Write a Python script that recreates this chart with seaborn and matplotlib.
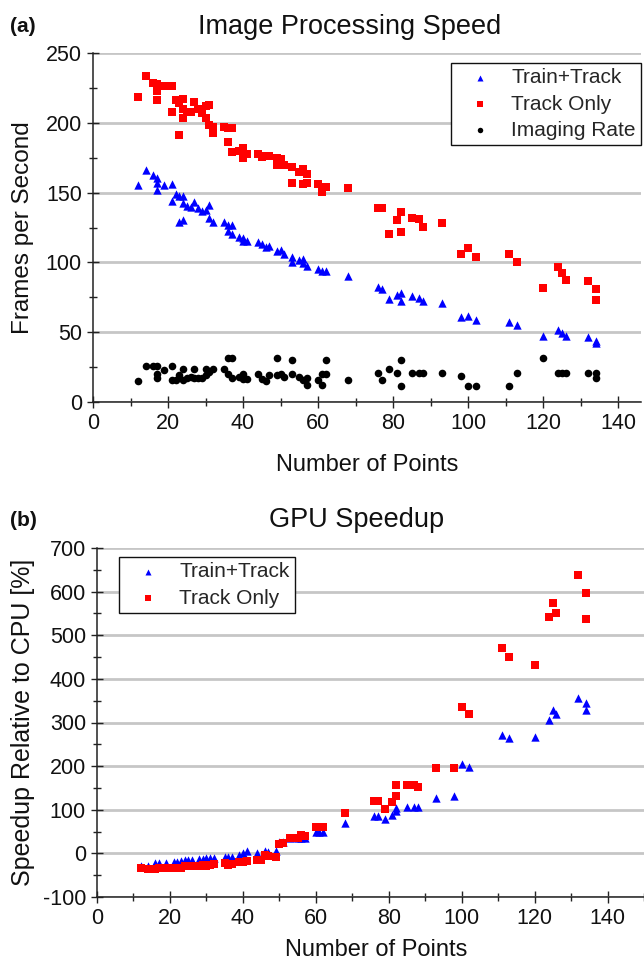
import matplotlib
matplotlib.use("Agg")
import matplotlib.pyplot as plt
import seaborn as sns
from matplotlib.ticker import MultipleLocator

# ---------------- data: panel (a) Image Processing Speed ----------------
a_tt_x = [12, 14, 16, 17, 17, 17, 19, 21, 21, 22, 23, 24, 24, 23, 24, 25, 26, 27, 28, 29,
          30, 31, 31, 32, 35, 36, 37, 36, 37, 39, 40, 40, 41, 44, 45, 46, 47, 49, 50, 51,
          53, 53, 55, 56, 56, 57, 60, 61, 62, 68, 76, 77, 79, 81, 82, 82, 85, 87, 88, 93,
          98, 100, 102, 111, 113, 120, 124, 125, 126, 132, 134, 134]
a_tt_y = [155.5, 166.2, 162.4, 160.2, 156.7, 151.7, 155.5, 155.9, 143.8, 148.8, 147.6, 147.6,
          142.9, 129.0, 130.7, 140.5, 139.8, 143.6, 139.3, 136.9, 137.6, 141.2, 132.1, 129.0,
          129.0, 126.9, 126.9, 122.6, 120.7, 117.9, 117.6, 115.0, 115.5, 114.5, 113.3, 110.7,
          111.4, 108.3, 109.0, 106.0, 103.6, 100.0, 101.4, 102.4, 99.5, 97.1, 95.5, 94.0,
          93.6, 90.0, 82.1, 81.0, 73.8, 76.9, 78.1, 72.4, 75.7, 74.5, 72.6, 71.0, 61.2, 61.9,
          59.0, 57.1, 55.2, 47.1, 51.7, 49.3, 47.6, 46.4, 44.0, 42.1]

a_to_x = [12, 14, 16, 17, 17, 17, 19, 21, 21, 22, 23, 23, 24, 24, 24, 25, 26, 27, 28, 29,
          30, 30, 31, 31, 32, 32, 35, 36, 37, 36, 37, 39, 40, 40, 41, 44, 45, 46, 47, 49,
          50, 49, 51, 53, 53, 55, 56, 57, 56, 57, 60, 61, 61, 62, 68, 76, 77, 79, 81, 82,
          82, 85, 87, 88, 93, 98, 100, 102, 111, 113, 120, 124, 125, 126, 132, 134, 134]
a_to_y = [218.3, 233.8, 228.6, 227.6, 222.6, 216.2, 226.7, 226.7, 207.9, 216.2, 191.0, 214.3,
          217.1, 210.0, 203.6, 207.6, 207.6, 215.0, 210.0, 207.1, 211.9, 203.6, 212.4, 198.1,
          197.1, 192.9, 196.9, 196.4, 196.4, 186.4, 179.3, 179.8, 182.1, 174.5, 177.4, 177.4,
          175.7, 176.2, 176.2, 174.5, 174.3, 169.8, 169.5, 168.3, 157.1, 165.0, 166.7, 163.1,
          156.4, 157.1, 156.4, 150.7, 153.3, 154.3, 153.5, 138.8, 138.8, 120.5, 130.7, 136.4,
          121.9, 131.9, 131.0, 125.7, 127.9, 106.0, 110.5, 103.6, 106.2, 100.5, 81.4, 96.9,
          92.4, 87.6, 86.9, 81.0, 73.3]

a_ir_x = [12, 14, 16, 17, 17, 17, 19, 21, 21, 22, 23, 24, 24, 25, 26, 27, 27, 28, 29, 30,
          30, 31, 32, 35, 36, 37, 36, 37, 39, 40, 40, 41, 44, 45, 46, 47, 49, 49, 50, 51,
          53, 53, 55, 56, 57, 57, 60, 61, 61, 62, 62, 68, 76, 77, 79, 81, 82, 82, 85, 87,
          88, 93, 98, 100, 102, 111, 113, 120, 124, 125, 126, 132, 134, 134]
a_ir_y = [14.8, 25.5, 25.5, 25.5, 20.2, 17.1, 23.1, 25.5, 15.5, 15.5, 19.0, 23.8, 16.0, 17.1,
          17.9, 23.8, 17.1, 17.1, 17.1, 23.8, 19.5, 21.4, 23.8, 23.8, 31.7, 31.7, 20.2, 17.1,
          17.9, 20.2, 16.7, 16.7, 20.2, 16.7, 15.0, 19.0, 31.4, 19.0, 20.2, 17.9, 30.2, 20.2,
          17.9, 15.5, 11.9, 17.1, 15.5, 20.2, 11.9, 30.2, 20.2, 15.5, 20.7, 15.5, 23.8, 20.7,
          30.2, 11.4, 20.7, 20.7, 20.7, 20.7, 18.6, 11.4, 11.4, 11.4, 20.7, 31.4, 20.7, 20.7,
          20.7, 20.7, 20.7, 17.4]

# ---------------- data: panel (b) GPU Speedup ----------------
b_tt_x = [12, 14, 16, 17, 19, 21, 22, 23, 24, 25, 26, 28, 29, 30, 31, 32, 35, 36, 37, 39,
          40, 41, 44, 46, 47, 49, 50, 51, 53, 55, 56, 57, 60, 61, 62, 68, 76, 77, 79, 81,
          82, 82, 85, 87, 88, 93, 98, 100, 102, 111, 113, 120, 124, 125, 126, 132, 134, 134]
b_tt_y = [-27.9, -28.7, -22.6, -22.6, -21.0, -18.7, -18.7, -16.5, -14.9, -14.9, -14.9, -13.4,
          -12.7, -11.1, -11.1, -11.1, -8.9, -8.9, -8.9, -3.5, 0.0, 5.3, 0.0, 6.1, 3.8, 6.1,
          25.2, 26.7, 34.4, 34.4, 35.9, 35.9, 49.8, 49.8, 49.8, 68.8, 86.4, 85.7, 78.8, 87.9,
          97.1, 104.7, 107.0, 107.0, 107.0, 127.6, 131.4, 204.6, 198.5, 272.4, 264.8, 267.8,
          306.7, 328.0, 320.4, 357.0, 344.8, 329.6]

b_to_x = [12, 14, 16, 17, 19, 21, 22, 23, 24, 25, 26, 28, 29, 30, 31, 32, 35, 36, 37, 39,
          40, 41, 44, 45, 46, 47, 49, 50, 51, 53, 55, 56, 57, 60, 61, 62, 68, 76, 77, 79,
          81, 82, 82, 85, 87, 88, 93, 98, 100, 102, 111, 113, 120, 124, 125, 126, 132, 134, 134]
b_to_y = [-34.0, -35.5, -35.5, -34.0, -32.5, -32.5, -32.5, -34.0, -28.7, -28.7, -27.9, -27.9,
          -26.4, -27.9, -26.4, -24.8, -22.6, -26.4, -24.8, -18.7, -18.7, -17.2, -14.9, -14.9,
          -3.5, -5.8, -7.3, 20.6, 22.9, 34.4, 35.9, 42.0, 39.7, 61.1, 59.6, 61.1, 91.8, 120.0,
          120.7, 100.9, 116.9, 132.2, 156.5, 155.8, 156.5, 152.0, 196.2, 196.2, 335.7, 318.9,
          471.3, 450.0, 431.7, 542.2, 573.5, 552.1, 639.0, 597.9, 537.7]

labels = ["Train+Track", "Track Only", "Imaging Rate"]

# ---------------- style ----------------
sns.set_style("ticks")
plt.rcParams['font.family'] = ['Liberation Sans', 'DejaVu Sans']
plt.rcParams['axes.unicode_minus'] = False

W, H = 644, 967
fig = plt.figure(figsize=(W / 100, H / 100), dpi=100)

ax1 = fig.add_axes([93 / W, 1 - 402 / H, (640.5 - 93) / W, (402 - 53) / H])
ax2 = fig.add_axes([97 / W, 1 - 897 / H, (644 - 97) / W, (897 - 548) / H])

blue = (0.0, 0.0, 1.0)
red = (1.0, 0.0, 0.0)
black = (0.0, 0.0, 0.0)

series_a = [(a_tt_x, a_tt_y, "^", blue, 36, labels[0]),
            (a_to_x, a_to_y, "s", red, 30, labels[1]),
            (a_ir_x, a_ir_y, "o", black, 30, labels[2])]
series_b = [(b_tt_x, b_tt_y, "^", blue, 36, labels[0]),
            (b_to_x, b_to_y, "s", red, 30, labels[1])]

for ax, series in ((ax1, series_a), (ax2, series_b)):
    for xs, ys, mk, col, s, lab in series:
        sns.scatterplot(x=xs, y=ys, marker=mk, color=col, s=s, linewidth=0,
                        label=lab, ax=ax, zorder=3)

# axes limits & ticks
ax1.set_xlim(0, 146)
ax1.set_ylim(0, 250)
ax1.xaxis.set_major_locator(MultipleLocator(20))
ax1.xaxis.set_minor_locator(MultipleLocator(10))
ax1.yaxis.set_major_locator(MultipleLocator(50))
ax1.yaxis.set_minor_locator(MultipleLocator(25))

ax2.set_xlim(0, 150)
ax2.set_ylim(-100, 700)
ax2.xaxis.set_major_locator(MultipleLocator(20))
ax2.xaxis.set_minor_locator(MultipleLocator(10))
ax2.yaxis.set_major_locator(MultipleLocator(100))
ax2.yaxis.set_minor_locator(MultipleLocator(50))

for ax in (ax1, ax2):
    for sp in ("top", "right"):
        ax.spines[sp].set_visible(False)
    for sp in ("left", "bottom"):
        ax.spines[sp].set_color("#222222")
        ax.spines[sp].set_linewidth(1.1)
    ax.tick_params(which="major", direction="inout", length=9, width=1.0,
                   color="#222222", labelsize=15.5, pad=3.5, labelcolor="#111111")
    ax.tick_params(which="minor", direction="inout", length=5.5, width=1.0,
                   color="#222222")
    ax.yaxis.grid(True, which="major", color="#c6c6c6", linewidth=2.0)
    ax.xaxis.grid(False)
    ax.set_axisbelow(True)

# axis labels
ax1.set_xlabel("Number of Points", fontsize=17, color="#111111")
ax1.set_ylabel("Frames per Second", fontsize=17.5, color="#111111")
ax2.set_xlabel("Number of Points", fontsize=17, color="#111111")
ax2.set_ylabel("Speedup Relative to CPU [%]", fontsize=18, color="#111111")
for ax, (xlx, xly), (ylx, yly) in ((ax1, (0.5, (402 - 465) / 349), ((23 - 93) / 547.5, 0.5)),
                                   (ax2, ((376 - 97) / 547, (897 - 950) / 349), ((23 - 97) / 547, 0.5))):
    ax.xaxis.label.set_va("center")
    ax.xaxis.set_label_coords(xlx, xly)
    ax.yaxis.label.set_va("center")
    ax.yaxis.set_label_coords(ylx, yly)

# titles & panel letters
fig.text(350 / W, 1 - 27 / H, "Image Processing Speed", fontsize=19.5,
         ha="center", va="center", color="#111111")
fig.text(10 / W, 1 - 27 / H, "(a)", fontsize=15, fontweight="bold",
         ha="left", va="center", color="#111111")
fig.text(357 / W, 1 - 520 / H, "GPU Speedup", fontsize=19.5,
         ha="center", va="center", color="#111111")
fig.text(10 / W, 1 - 520 / H, "(b)", fontsize=15, fontweight="bold",
         ha="left", va="center", color="#111111")

# legends
leg_kw = dict(fontsize=15, frameon=True, fancybox=False, framealpha=1,
              edgecolor="#111111", borderpad=0.25, handlelength=2.3,
              handletextpad=0.35, labelspacing=0.35, markerscale=0.72,
              borderaxespad=0, bbox_transform=fig.transFigure)
h1, l1 = ax1.get_legend_handles_labels()
lg1 = ax1.legend(h1, l1, loc="upper right", bbox_to_anchor=(641 / W, 1 - 63 / H), **leg_kw)
h2, l2 = ax2.get_legend_handles_labels()
lg2 = ax2.legend(h2, l2, loc="upper left", bbox_to_anchor=(119 / W, 1 - 557 / H), **leg_kw)
for lg in (lg1, lg2):
    lg.get_frame().set_linewidth(1.0)

fig.savefig("out.png", dpi=100)
